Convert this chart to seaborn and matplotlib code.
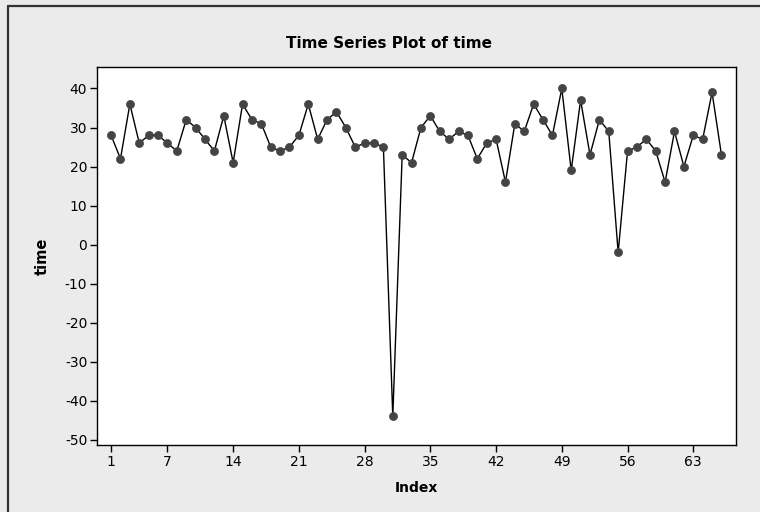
import matplotlib
matplotlib.use("Agg")
import matplotlib.pyplot as plt
import seaborn as sns
import pandas as pd
from matplotlib.lines import Line2D

# Observed values of "time", in order
time_values = [28, 22, 36, 26, 28, 28, 26, 24, 32, 30,
               27, 24, 33, 21, 36, 32, 31, 25, 24, 25,
               28, 36, 27, 32, 34, 30, 25, 26, 26, 25,
               -44, 23, 21, 30, 33, 29, 27, 29, 28, 22,
               26, 27, 16, 31, 29, 36, 32, 28, 40, 19,
               37, 23, 32, 29, -2, 24, 25, 27, 24, 16,
               29, 20, 28, 27, 39, 23]
index_values = list(range(1, len(time_values) + 1))
x_ticks = [1, 7, 14, 21, 28, 35, 42, 49, 56, 63]
y_ticks = [40, 30, 20, 10, 0, -10, -20, -30, -40, -50]

df = pd.DataFrame({"Index": index_values, "time": time_values})

sns.set_theme(style="white")
plt.rcParams["font.family"] = ["DejaVu Sans"]
plt.rcParams["axes.unicode_minus"] = False

bg = "#ebebeb"
fig = plt.figure(figsize=(7.6, 5.12), dpi=100, facecolor=bg)
ax = fig.add_axes([97 / 760, 1 - 445 / 512, (736 - 97) / 760, (445 - 67) / 512])
ax.set_facecolor("white")

sns.lineplot(data=df, x="Index", y="time", ax=ax, color="black", linewidth=1.0,
             marker="o", markersize=5.8, markerfacecolor="#444444",
             markeredgecolor="#444444", markeredgewidth=0.5)

ax.set_xlim(-0.5, 67.55)
ax.set_ylim(-51.3, 45.5)
ax.set_xticks(x_ticks)
ax.set_yticks(y_ticks)
ax.tick_params(axis="both", direction="out", length=5, width=1, color="black",
               labelsize=10, labelcolor="black", pad=2,
               bottom=True, left=True)
for s in ax.spines.values():
    s.set_color("black")
    s.set_linewidth(1.0)

ax.set_xlabel("Index", fontsize=10, fontweight="bold", color="black", labelpad=8.5)
ax.set_ylabel("time", fontsize=10.5, fontweight="bold", color="black")
ax.yaxis.set_label_coords((50 - 97) / 639, 0.5)
fig.text(389 / 760, 1 - 44 / 512, "Time Series Plot of time", ha="center",
         va="center", fontsize=11, fontweight="bold", color="black")

# Outer frame of the graph window (left and top edges)
frame_kw = dict(transform=fig.transFigure, color="#333333", linewidth=1.6)
fig.lines.append(Line2D([8 / 760, 8 / 760], [0, 1 - 6 / 512], **frame_kw))
fig.lines.append(Line2D([8 / 760, 1], [1 - 6 / 512, 1 - 6 / 512], **frame_kw))

fig.savefig("out.png", dpi=100, facecolor=bg)
